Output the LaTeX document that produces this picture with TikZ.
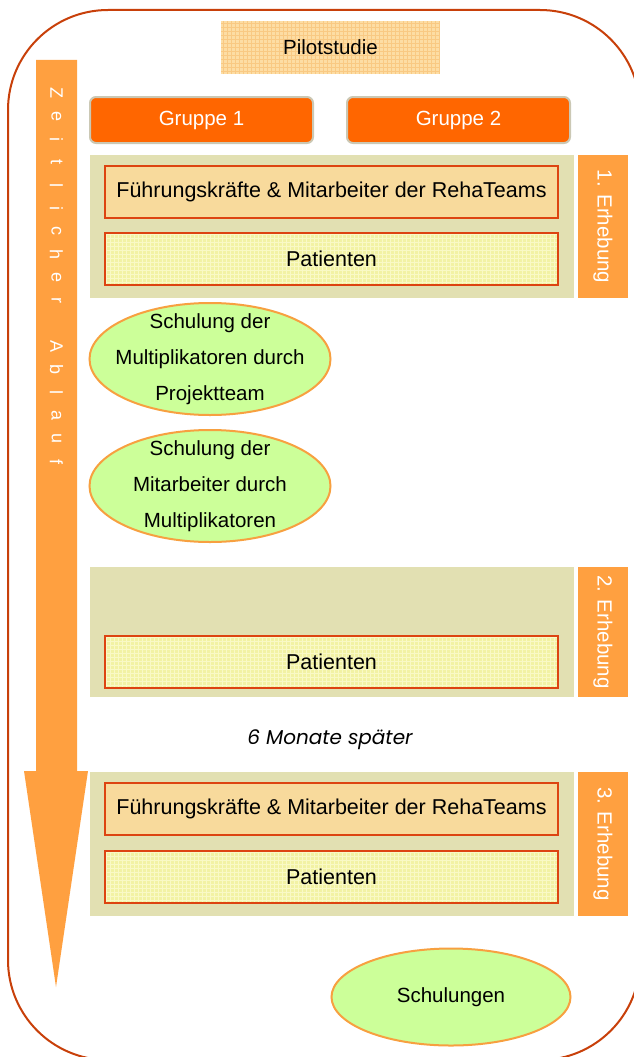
\documentclass[tikz,border=0pt]{standalone}
\usepackage{fontspec}
\setmainfont{Liberation Sans}
\newfontfamily\geofont{Poppins}
\usetikzlibrary{shapes.geometric}

\definecolor{rahmen}{HTML}{C8400A}
\definecolor{zeitorange}{HTML}{FFA040}
\definecolor{gruppe}{HTML}{FF6600}
\definecolor{gruppenrand}{HTML}{CBC8B4}
\definecolor{bandfarbe}{HTML}{E2E0B2}
\definecolor{kasten}{HTML}{F8DA9C}
\definecolor{patient}{HTML}{F2F2A4}
\definecolor{patientgitter}{HTML}{F9F9C6}
\definecolor{kastenrand}{HTML}{DD4411}
\definecolor{schulung}{HTML}{CCFF99}
\definecolor{schulungrand}{HTML}{F7A040}
\definecolor{pilot}{HTML}{FDDDA4}
\definecolor{pilotgitter}{HTML}{F9C983}

\tikzset{
  txt/.style={font=\fontsize{20.5}{24}\selectfont},
  raster/.style={path picture={\draw[#1,line width=0.5pt,step=4pt]
      (path picture bounding box.south west) grid (path picture bounding box.north east);}},
  pilotbox/.style={txt, fill=pilot, raster=pilotgitter, minimum width=219pt, minimum height=53pt, inner sep=0pt},
  gruppenbox/.style={txt, draw=gruppenrand, line width=2pt, fill=gruppe, rounded corners=6pt,
      text=white, minimum width=223pt, minimum height=46pt, inner sep=0pt},
  bandbox/.style={fill=bandfarbe, minimum width=484pt, inner sep=0pt},
  erhbox/.style={txt, fill=zeitorange, text=white, rotate=-90, minimum height=50pt, inner sep=0pt},
  fkbox/.style={font=\fontsize{21.5}{24}\selectfont, draw=kastenrand, line width=1.8pt, fill=kasten,
      minimum width=453pt, minimum height=52pt, inner sep=0pt},
  patbox/.style={fkbox, fill=patient, raster=patientgitter},
  schulbox/.style={ellipse, draw=schulungrand, line width=2pt, fill=schulung, inner sep=0pt},
  schultxt/.style={font=\fontsize{20.5}{36}\selectfont, align=center},
  zeichen/.style={text=white, rotate=-90, inner sep=0pt, font=\fontsize{18}{20}\selectfont}
}

\begin{document}
\begin{tikzpicture}[x=1pt,y=-1pt]
   \clip (0,0) rectangle (634,1057);
   % Rahmen
   \draw[rahmen, line width=2pt, rounded corners=100pt] (8,10) rectangle (640,1060);

   % zeitlicher Ablauf
   \fill[zeitorange] (36,60) -- (77,60) -- (77,771) -- (88,771) -- (56,987) -- (24,771) -- (36,771) -- cycle;
   \foreach \c/\k in {Z/0,e/1,i/2,t/3,l/4,i/5,c/6,h/7,e/8,r/9,A/11,b/12,l/13,a/14,u/15,f/16} {
    \node[zeichen] (z\k) at (56.5,{93+23.06*\k}) {\c};
   }

   \node[pilotbox] (pilot) at (330.5,47.5) {Pilotstudie};
   \node[gruppenbox] (g1) at (201.5,120) {Gruppe 1};
   \node[gruppenbox] (g2) at (458.5,120) {Gruppe 2};

   % 1. Erhebung
   \node[bandbox, minimum height=143pt] (band1) at (332,226.5) {};
   \node[erhbox, minimum width=143pt] (erh1) at (603,226.5) {1. Erhebung};
   \node[fkbox] (fk1) at (331.5,192) {Führungskräfte \& Mitarbeiter der RehaTeams};
   \node[patbox] (pat1) at (331.5,259) {Patienten};

   % Schulungen
   \node[schulbox, minimum width=241pt, minimum height=112pt,
     label={[schultxt]center:{Schulung der\\Multiplikatoren durch\\Projektteam}}] (schul1) at (210,359) {};
   \node[schulbox, minimum width=241pt, minimum height=112pt,
     label={[schultxt]center:{Schulung der\\Mitarbeiter durch\\Multiplikatoren}}] (schul2) at (210,486) {};

   % 2. Erhebung
   \node[bandbox, minimum height=130pt] (band2) at (332,632) {};
   \node[erhbox, minimum width=130pt] (erh2) at (603,632) {2. Erhebung};
   \node[patbox] (pat2) at (331.5,662) {Patienten};

   \node[font=\geofont\itshape\fontsize{20}{24}\selectfont] (spaeter) at (330,740) {6 Monate später};

   % 3. Erhebung
   \node[bandbox, minimum height=144pt] (band3) at (332,844) {};
   \node[erhbox, minimum width=144pt] (erh3) at (603,844) {3. Erhebung};
   \node[fkbox] (fk3) at (331.5,809) {Führungskräfte \& Mitarbeiter der RehaTeams};
   \node[patbox] (pat3) at (331.5,877) {Patienten};

   \node[schulbox, minimum width=239pt, minimum height=97pt, txt] (schul3) at (451,997) {Schulungen};
  \end{tikzpicture}
\end{document}
